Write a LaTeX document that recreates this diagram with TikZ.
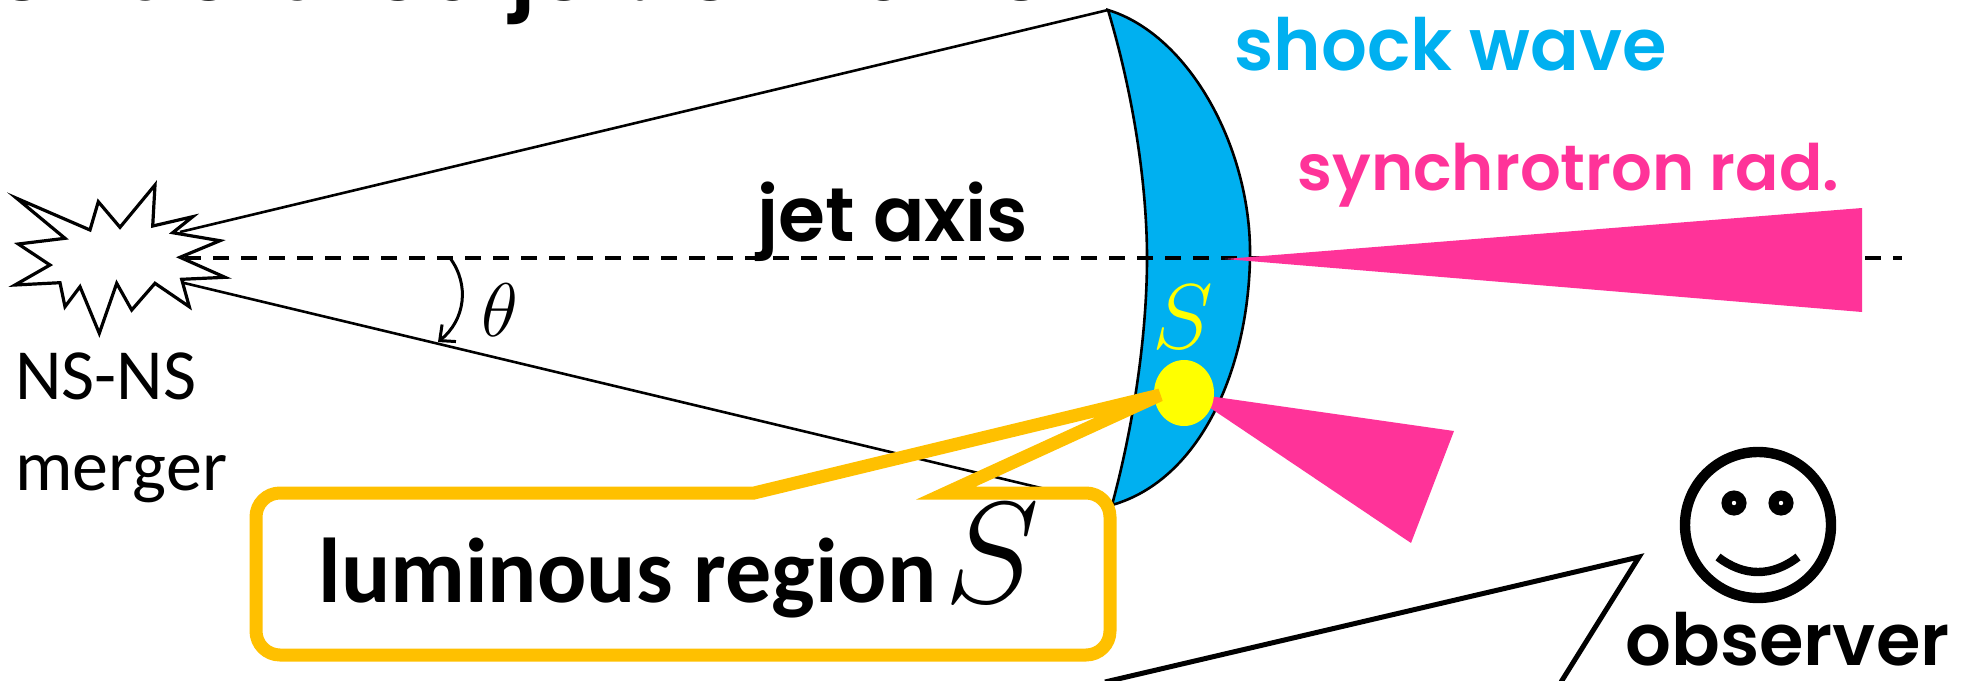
\RequirePackage{fix-cm}
\documentclass[tikz,border=0pt]{standalone}
\usepackage{fontspec}
\setmainfont{Carlito}
\newfontfamily\rnd{Poppins}[BoldFont={Poppins SemiBold}]
\usetikzlibrary{arrows.meta}
\definecolor{shockblue}{HTML}{00B0F0}
\definecolor{synpink}{HTML}{FF3399}
\definecolor{calloutorange}{HTML}{FFC000}
\definecolor{spotyellow}{HTML}{FFFF00}

\tikzset{
  coneline/.style={line width=1.3pt},
  axisline/.style={line width=2pt, dash pattern=on 8pt off 6pt},
  burst/.style={line width=1.6pt, fill=white, line join=miter},
  shockedge/.style={line width=1.3pt},
  beam/.style={fill=synpink},
  rndlabel/.style={inner sep=0pt, font=\rnd\bfseries},
  plainlabel/.style={inner sep=0pt},
}

\begin{document}
\begin{tikzpicture}[x=0.5pt, y=-0.5pt]
\useasboundingbox (0,0) rectangle (1975,680);
\begin{scope}
\clip (0,0) rectangle (1975,680);

% heading, running off the top edge
\node[rndlabel, anchor=base west, font=\rnd\bfseries\fontsize{46}{50}\selectfont] (title) at (-4,0) {structured jet: off-axis};

% key points of the jet cone
\coordinate (burstU) at (180,232);
\coordinate (burstL) at (180,282);
\coordinate (shockTop) at (1108,10);
\coordinate (shockBot) at (1112,505);

% cone edges
\draw[coneline] (burstU) -- (shockTop);
\draw[coneline] (burstL) -- (shockBot);

% shock wave shell
\path[fill=shockblue] (shockTop) .. controls (1190,35) and (1252,150) .. (1250,258)
  .. controls (1248,370) and (1200,480) .. (shockBot)
  .. controls (1135,420) and (1147,330) .. (1147,258)
  .. controls (1147,190) and (1135,100) .. (shockTop) -- cycle;
\draw[shockedge] (shockTop) .. controls (1190,35) and (1252,150) .. (1250,258)
  .. controls (1248,370) and (1200,480) .. (shockBot)
  .. controls (1135,420) and (1147,330) .. (1147,258)
  .. controls (1147,190) and (1135,100) .. (shockTop) -- cycle;

% jet axis
\coordinate (axisStart) at (185,258);
\coordinate (axisEnd) at (1902,258);
\draw[axisline] (axisStart) -- (axisEnd);

% synchrotron beams
\coordinate (beamApex) at (1225,259);
\fill[beam] (beamApex) -- (1862,208) -- (1862,312) -- cycle;
\coordinate (spot) at (1184,393);
\fill[beam] (1188,393) -- (1454,431) -- (1411,543) -- cycle;

% luminous spot
\fill[spotyellow] (spot) ellipse [x radius=15pt, y radius=16.5pt];
\node[plainlabel, text=spotyellow, font=\fontsize{46}{46}\selectfont] (spotS) at (1183,317) {$S$};

% merger starburst
\draw[burst] (16.7,198.3) -- (90,230) -- (98.3,201.7) -- (120,227.3) -- (155,185)
  -- (152.7,226) -- (192.7,216.7) -- (172.7,232.7) -- (220,240.7) -- (180,257.3)
  -- (225,277.3) -- (181.7,279.3) -- (189.3,306.7) -- (155,283.3) -- (131.7,310)
  -- (116.7,283.3) -- (99.3,333.3) -- (80,286.7) -- (65,306.7) -- (60,282.7)
  -- (15,285) -- (50,265) -- (18.3,244) -- (65,238.3) -- cycle;

% opening angle
\coordinate (angA) at (450,258);
\coordinate (angB) at (438,342);
\draw[line width=1.5pt, -{Straight Barb[length=6pt,width=11pt]}] (angA) .. controls (470,285) and (465,320) .. (angB);
\node[plainlabel, font=\fontsize{38}{38}\selectfont] (theta) at (500,310) {$\theta$};

% labels
\node[rndlabel, anchor=base, font=\rnd\bfseries\fontsize{38}{42}\selectfont] (jetaxis) at (893,241) {jet axis};
\node[rndlabel, anchor=base west, text=shockblue, font=\rnd\bfseries\fontsize{36}{40}\selectfont] (shocklabel) at (1234,70) {shock wave};
\node[rndlabel, anchor=base west, text=synpink, font=\rnd\bfseries\fontsize{32}{36}\selectfont] (synlabel) at (1297,190) {synchrotron rad.};
\node[plainlabel, anchor=base west, font=\fontsize{36}{40}\selectfont] (ns) at (15,399) {NS-NS};
\node[plainlabel, anchor=base west, font=\fontsize{36}{40}\selectfont] (merger) at (15,490) {merger};

% callout for the luminous region
\fill[white] (280,493) -- (1086,493) .. controls (1099.3,493) and (1110,503.7) .. (1110,517)
  -- (1110,631) .. controls (1110,644.3) and (1099.3,655) .. (1086,655)
  -- (280,655) .. controls (266.7,655) and (256,644.3) .. (256,631)
  -- (256,517) .. controls (256,503.7) and (266.7,493) .. (280,493) -- cycle;
\coordinate (tipS) at (1160,395);
\draw[calloutorange, line width=6.5pt, line join=miter] (946,493) -- (1086,493) .. controls (1099.3,493) and (1110,503.7) .. (1110,517)
  -- (1110,631) .. controls (1110,644.3) and (1099.3,655) .. (1086,655)
  -- (280,655) .. controls (266.7,655) and (256,644.3) .. (256,631)
  -- (256,517) .. controls (256,503.7) and (266.7,493) .. (280,493)
  -- (754,493) -- (tipS) -- cycle;
\node[plainlabel, anchor=base west, font=\bfseries\fontsize{46}{50}\selectfont] (lum) at (318,602) {luminous region\hspace{4pt}{\fontsize{72}{72}\selectfont$S$}};

% observer
\coordinate (face) at (1758,525);
\draw[line width=5.2pt] (face) circle [radius=36.5pt];
\fill (1734,503) circle [radius=6.3pt];
\fill (1781,503) circle [radius=6.3pt];
\fill[white] (1734,503) circle [radius=1.1pt];
\fill[white] (1781,503) circle [radius=1.1pt];
\draw[line width=4.2pt] (1718,557) .. controls (1744,577) and (1772,577) .. (1798,557);
\node[rndlabel, anchor=base west, font=\rnd\bfseries\fontsize{36}{40}\selectfont] (obs) at (1625,665) {observer};

% pointer of the observer's bubble
\coordinate (obsTip) at (1639,557);
\draw[line width=2.5pt, line join=miter] (1105,682) -- (obsTip) -- (1561,682);

\end{scope}
\end{tikzpicture}
\end{document}
